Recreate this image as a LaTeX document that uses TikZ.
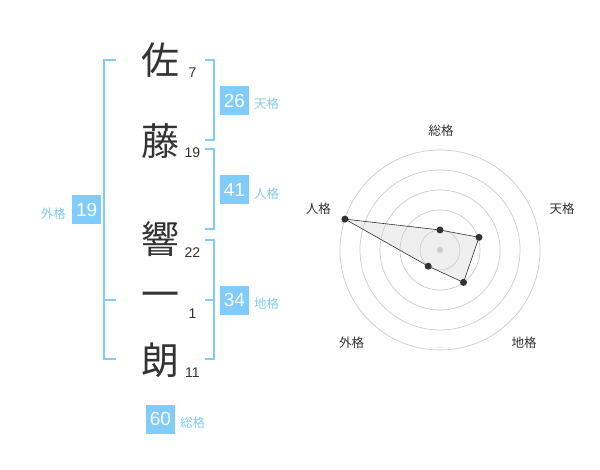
\documentclass[tikz,border=0pt]{standalone}
\usepackage{fontspec}
\usetikzlibrary{calc}
\setmainfont{Liberation Sans}
\newfontfamily\jp{Noto Sans CJK JP}
\definecolor{boxblue}{HTML}{80CCFF}
\definecolor{lblblue}{HTML}{84CCF4}
\definecolor{ink}{HTML}{333333}
\definecolor{ring}{HTML}{CCCCCC}
\begin{document}
\begin{tikzpicture}[x=1pt,y=-1pt,
  kanji/.style={font=\jp\fontsize{38}{38}\selectfont, text=ink, inner sep=0pt},
  stroke/.style={font=\fontsize{14}{14}\selectfont, text=ink, inner sep=0pt},
  valbox/.style={fill=boxblue, text=white, minimum size=29pt, inner sep=0pt, font=\fontsize{19}{19}\selectfont},
  vallbl/.style={text=lblblue, font=\jp\fontsize{12.5}{12.5}\selectfont, inner sep=0pt},
  bracket/.style={draw=boxblue, line width=1.8pt},
  axislbl/.style={text=ink, font=\jp\fontsize{12.5}{12.5}\selectfont, inner sep=0pt},
  dot/.style={circle, fill=ink, minimum size=7pt, inner sep=0pt}]
\useasboundingbox (0,0) rectangle (600,470);
\fill[white] (0,0) rectangle (600,470);

% characters
\node[kanji] (c1) at (160,60) {佐};
\node[kanji] (c2) at (160,141) {藤};
\node[kanji] (c3) at (160,239.5) {響};
\node[kanji] (c4) at (160,300) {一};
\node[kanji] (c5) at (160,360) {朗};
\node[stroke] (n1) at (192.5,72.7) {7};
\node[stroke] (n2) at (192.5,152.7) {19};
\node[stroke] (n3) at (192.5,252.7) {22};
\node[stroke] (n4) at (192.5,313.3) {1};
\node[stroke] (n5) at (192.5,372.7) {11};

% brackets
\draw[bracket] (205,60) -- (214,60) -- (214,140) -- (205,140);
\draw[bracket] (205,149.3) -- (214,149.3) -- (214,229.3) -- (205,229.3);
\draw[bracket] (205,240) -- (214,240) -- (214,359.3) -- (205,359.3);
\draw[bracket] (205,300) -- (214,300);
\draw[bracket] (116,60) -- (104,60) -- (104,359.3) -- (116,359.3);
\draw[bracket] (104,300) -- (116,300);

% values
\node[valbox] (ten) at (234.5,100.5) {26};
\node[vallbl, anchor=west] (tenl) at (254,103.5) {天格};
\node[valbox] (jin) at (234.5,190) {41};
\node[vallbl, anchor=west] (jinl) at (254,193.5) {人格};
\node[valbox] (chi) at (234.5,300.3) {34};
\node[vallbl, anchor=west] (chil) at (254,303.8) {地格};
\node[valbox] (gai) at (86.7,210) {19};
\node[vallbl, anchor=east] (gail) at (66,213.5) {外格};
\node[valbox] (sou) at (160.5,419.2) {60};
\node[vallbl, anchor=west] (soul) at (180,422.7) {総格};

% radar
\coordinate (O) at (440,250);
\foreach \r in {20,40,60,80,100}
  \draw[ring, line width=0.7pt] (O) circle (\r);
\coordinate (pS) at ($(O)+(0,-20)$);
\coordinate (pT) at ($(O)+(39,-12.7)$);
\coordinate (pC) at ($(O)+(23.5,32.4)$);
\coordinate (pG) at ($(O)+(-11.8,16.2)$);
\coordinate (pJ) at ($(O)+(-95.1,-30.9)$);
\fill[ring, opacity=0.3] (pS) -- (pT) -- (pC) -- (pG) -- (pJ) -- cycle;
\draw[ink, line width=0.6pt] (pS) -- (pT) -- (pC) -- (pG) -- (pJ) -- cycle;
\node[circle, fill=ring, minimum size=6pt, inner sep=0pt] (ctr) at (O) {};
\foreach \p in {pS,pT,pC,pG,pJ}
  \node[dot] at (\p) {};
\node[axislbl] (aS) at (441,130.7) {総格};
\node[axislbl] (aT) at (562,208.3) {天格};
\node[axislbl] (aJ) at (318.3,208.3) {人格};
\node[axislbl] (aG) at (351.7,342.3) {外格};
\node[axislbl] (aC) at (524,342.3) {地格};
\end{tikzpicture}
\end{document}
